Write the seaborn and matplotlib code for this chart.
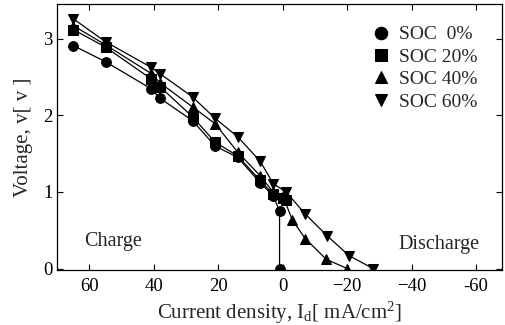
import matplotlib
matplotlib.use("Agg")
import matplotlib.pyplot as plt
import seaborn as sns
import numpy as np
import pandas as pd

# current density (charge positive, discharge negative) and voltage per SOC
x_soc0 = [65, 55, 41, 38, 28, 21, 14, 7, 3, 1, 1]
v_soc0 = [2.91, 2.70, 2.35, 2.22, 1.93, 1.60, 1.45, 1.12, 0.95, 0.75, 0.0]

x_soc20 = [65, 55, 41, 38, 28, 21, 14, 7, 3, 0, -1]
v_soc20 = [3.12, 2.89, 2.48, 2.37, 1.98, 1.65, 1.47, 1.15, 0.97, 0.92, 0.90]

x_soc40 = [65, 55, 41, 38, 28, 21, 14, 7, 3, 0, -3, -7, -13.5, -20]
v_soc40 = [3.17, 2.92, 2.55, 2.42, 2.11, 1.89, 1.52, 1.21, 1.00, 0.95, 0.63, 0.39, 0.12, 0.0]

x_soc60 = [65, 55, 41, 38, 28, 21, 14, 7, 3, -1, -7, -13.7, -20.5, -28]
v_soc60 = [3.26, 2.96, 2.63, 2.54, 2.24, 1.96, 1.72, 1.40, 1.11, 1.00, 0.71, 0.43, 0.17, 0.0]

labels = ["SOC  0%", "SOC 20%", "SOC 40%", "SOC 60%"]
marker_map = {"SOC  0%": "o", "SOC 20%": "s", "SOC 40%": "^", "SOC 60%": "v"}

frames = []
for lab, xs, vs in zip(labels, [x_soc0, x_soc20, x_soc40, x_soc60],
                       [v_soc0, v_soc20, v_soc40, v_soc60]):
    frames.append(pd.DataFrame({"I": xs, "V": vs, "SOC": lab}))
df = pd.concat(frames, ignore_index=True)

sns.set_theme(style="ticks")
plt.rcParams["font.family"] = ["Liberation Serif", "DejaVu Serif"]
plt.rcParams["mathtext.fontset"] = "custom"
plt.rcParams["mathtext.rm"] = "Liberation Serif"
plt.rcParams["mathtext.it"] = "Liberation Serif"

fig = plt.figure(figsize=(5.06, 3.25), dpi=100)
ax = fig.add_axes([0.113, 0.169, 0.879, 0.818])

sns.lineplot(data=df, x="I", y="V", style="SOC", markers=marker_map, dashes=False,
             color="black", estimator=None, sort=False, linewidth=0.9,
             markersize=7, markeredgecolor="black", ax=ax)

ax.set_xlim(70, -68)
ax.set_ylim(-0.02, 3.45)
ax.set_xticks([60, 40, 20, 0, -20, -40, -60])
ax.set_xticklabels(["60", "40", "20", "0", "\u221220", "\u221240", "-60"])
ax.set_yticks([0, 1, 2, 3])
ax.tick_params(direction="in", top=True, right=True, labelsize=13.5, length=4,
               width=0.8, colors="black")
ax.tick_params(axis="x", pad=6)
for s in ax.spines.values():
    s.set_color("black")
    s.set_linewidth(0.9)

ax.set_xlabel("Current density, I$_\\mathrm{d}$[ mA/cm$^2$]", fontsize=15, labelpad=3)
ax.set_ylabel("Voltage, v[ v ]", fontsize=15, labelpad=7)

ax.text(61.5, 0.35, "Charge", fontsize=14.5, va="center", ha="left")
ax.text(-36, 0.31, "Discharge", fontsize=14.5, va="center", ha="left")

leg = ax.legend(loc="upper right", bbox_to_anchor=(0.985, 0.985), frameon=False,
                fontsize=14, handlelength=0.9, handletextpad=0.5, labelspacing=0.25)
for h in leg.legend_handles:
    h.set_linestyle("none")
    h.set_markersize(9)

fig.savefig("out.png", dpi=100)
